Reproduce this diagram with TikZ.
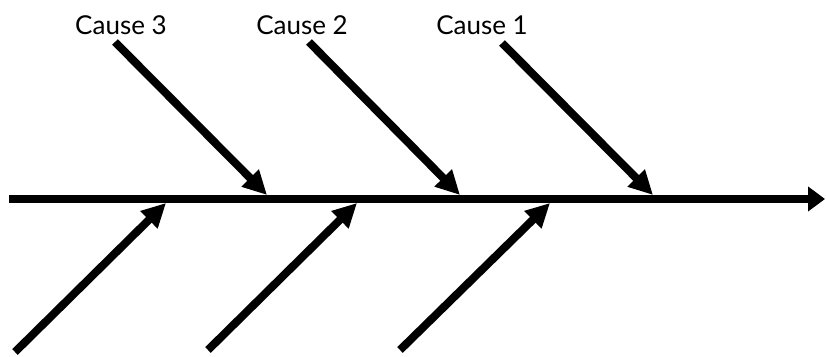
\documentclass[tikz,border=0pt]{standalone}
\usepackage{fontspec}
\setmainfont{Lato}
\usetikzlibrary{arrows.meta}

\begin{document}
\begin{tikzpicture}[x=1pt, y=1pt,
                    every node/.style={font=\fontsize{26}{30}\selectfont},
                    bone/.style={line width=8pt, -{Triangle[length=24pt, width=23pt]}},
                    spine/.style={line width=8pt, -{Triangle[length=17pt, width=24pt]}}]

  \useasboundingbox (0,0) rectangle (826,356);

  %% ---- 主軸 ----
  \coordinate (tail) at (9,157);
  \coordinate (head) at (825,157);
  \draw[spine] (tail) -- (head);

  %% ---- 上方的原因 ----
  \node (c3) at (121,331) {Cause 3};
  \node (c2) at (302,331) {Cause 2};
  \node (c1) at (482,331) {Cause 1};

  \coordinate (u3) at (115,314);  \coordinate (t3) at (267,161);
  \coordinate (u2) at (309,314);  \coordinate (t2) at (460,161);
  \coordinate (u1) at (502,313);  \coordinate (t1) at (653,161);
  \draw[bone] (u3) -- (t3);
  \draw[bone] (u2) -- (t2);
  \draw[bone] (u1) -- (t1);

  %% ---- 下方的原因 (無標示) ----
  \coordinate (l3) at (15,4);   \coordinate (s3) at (166,153);
  \coordinate (l2) at (208,6);  \coordinate (s2) at (357,153);
  \coordinate (l1) at (400,6);  \coordinate (s1) at (550,153);
  \draw[bone] (l3) -- (s3);
  \draw[bone] (l2) -- (s2);
  \draw[bone] (l1) -- (s1);

\end{tikzpicture}
\end{document}
